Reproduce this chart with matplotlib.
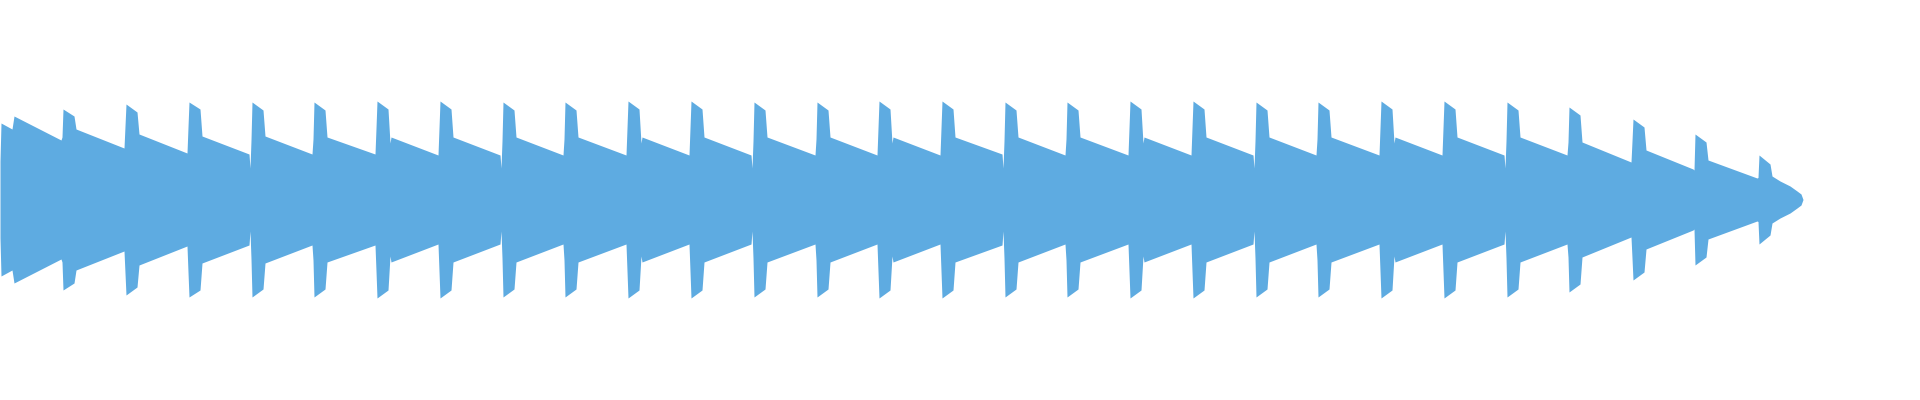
import numpy as np
import matplotlib.pyplot as plt

# waveform peaks, read per beat (x = peak frame, amplitude normalised, 1.0 = full scale)
onsets = [0, 62, 125, 188, 251, 313, 376, 439, 502, 564, 627, 690, 753, 816, 878,
          941, 1004, 1066, 1129, 1192, 1255, 1317, 1380, 1443, 1506, 1568, 1632, 1694, 1758]
lead_amp = [0.385, 0.625, 0.735, 0.725, 0.595, 0.605, 0.715, 0.715, 0.585, 0.605,
            0.715, 0.715, 0.585, 0.605, 0.715, 0.715, 0.585, 0.605, 0.715, 0.715,
            0.585, 0.605, 0.715, 0.715, 0.585, 0.575, 0.585, 0.295, 0.22]
spike_top = [0.765, 0.905, 0.955, 0.975, 0.975, 0.975, 0.985, 0.985, 0.975, 0.975,
             0.985, 0.985, 0.975, 0.975, 0.985, 0.985, 0.975, 0.975, 0.985, 0.985,
             0.975, 0.975, 0.985, 0.985, 0.975, 0.925, 0.805, 0.655, 0.445]
spike_end = [0.705, 0.835, 0.875, 0.905, 0.895, 0.895, 0.905, 0.905, 0.895, 0.895,
             0.905, 0.905, 0.895, 0.895, 0.905, 0.905, 0.895, 0.895, 0.905, 0.905,
             0.895, 0.895, 0.905, 0.905, 0.895, 0.845, 0.725, 0.575, 0.355]
decay_start = [0.835, 0.705, 0.655, 0.635, 0.635, 0.625, 0.625, 0.625, 0.625, 0.625,
               0.625, 0.625, 0.625, 0.625, 0.625, 0.625, 0.625, 0.625, 0.625, 0.625,
               0.625, 0.625, 0.625, 0.625, 0.625, 0.575, 0.495, 0.395, 0.235]
decay_end = [0.595, 0.515, 0.465, 0.455, 0.455, 0.455, 0.445, 0.445, 0.445, 0.445,
             0.445, 0.445, 0.445, 0.445, 0.445, 0.455, 0.445, 0.445, 0.445, 0.445,
             0.445, 0.445, 0.445, 0.445, 0.445, 0.375, 0.305, 0.215]
dip_onsets = [251, 502, 753, 1004, 1255, 1506]
dip_amp = 0.315
notch_onsets = [376, 627, 878, 1129, 1380]
notch_amp = 0.565
tail_frames = [1780, 1790, 1797, 1801, 1803]
tail_amp = [0.185, 0.135, 0.085, 0.055, 0.0]

WAVE_COLOR = '#5eabe1'

xs, amp = [], []
for i, o in enumerate(onsets):
    if i > 0:
        if o in dip_onsets:
            xs += [o - 2, o - 1]
            amp += [decay_end[i - 1], dip_amp]
        else:
            xs.append(o - 1)
            amp.append(decay_end[i - 1])
    xs += [o, o + 1, o + 12]
    amp += [lead_amp[i], spike_top[i], spike_end[i]]
    if o in notch_onsets:
        xs += [o + 14, o + 15]
        amp += [notch_amp, decay_start[i]]
    else:
        xs.append(o + 14)
        amp.append(decay_start[i])
xs += tail_frames
amp += tail_amp

xs = np.array(xs)
amp = np.array(amp)

fig = plt.figure(figsize=(19.2, 4), dpi=100)
ax = fig.add_axes([0, 0, 1, 1])
ax.fill_between(xs, -amp, amp, color=WAVE_COLOR, lw=0)
ax.set_xlim(0, 1920)
ax.set_ylim(-2.005, 1.995)
ax.axis('off')

fig.savefig('out.png', dpi=100, facecolor='white')
